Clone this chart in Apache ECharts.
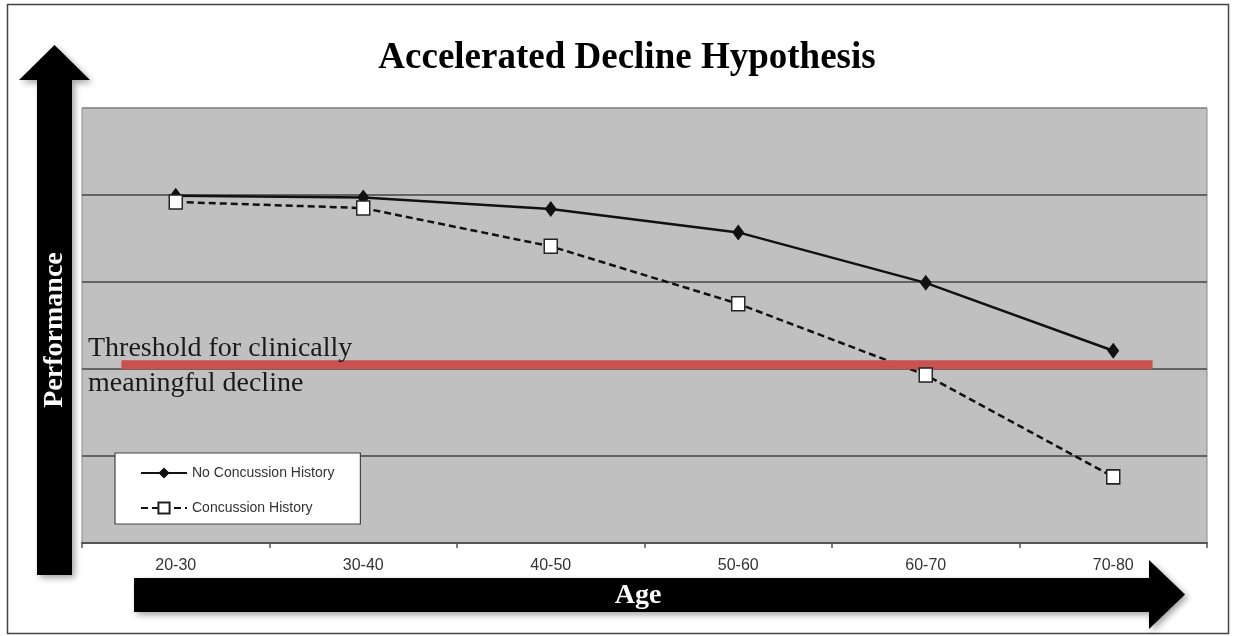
<!DOCTYPE html>
<html>
<head>
<meta charset="utf-8">
<script src="https://cdn.jsdelivr.net/npm/echarts@6/dist/echarts.min.js"></script>
<style>
html,body{margin:0;padding:0;background:#fff;}
#chart{width:1235px;height:636px;}
</style>
</head>
<body>
<div id="chart"></div>
<script>
var categories = ['20-30', '30-40', '40-50', '50-60', '60-70', '70-80'];
var noConcussion = [3.99, 3.97, 3.84, 3.57, 2.99, 2.21];
var concussion = [3.92, 3.85, 3.41, 2.75, 1.93, 0.76];
var thresholdValue = 2.05;
var thresholdSpan = [0.21, 5.71];
var titleText = 'Accelerated Decline Hypothesis';
var thresholdText = 'Threshold for clinically\nmeaningful decline';
var yAxisName = 'Performance';
var xAxisName = 'Age';

var chart = echarts.init(document.getElementById('chart'), null, {renderer: 'canvas'});
var narrow = "'Liberation Sans Narrow', 'Arial Narrow', 'Liberation Sans', Arial, sans-serif";
var serif = "'Liberation Serif', 'Times New Roman', serif";
var shadow = {shadowBlur: 6, shadowColor: 'rgba(0,0,0,0.35)', shadowOffsetX: 3, shadowOffsetY: 3};

var option = {
  animation: false,
  backgroundColor: '#ffffff',
  title: {
    text: titleText,
    left: 622,
    top: 35,
    textAlign: 'center',
    textStyle: {fontFamily: serif, fontWeight: 'bold', fontSize: 37, color: '#000'}
  },
  grid: {
    left: 82, right: 28, top: 108, bottom: 93,
    show: true, backgroundColor: '#c0c0c0', borderColor: '#8a8a8a', borderWidth: 1,
    containLabel: false
  },
  legend: {
    data: ['No Concussion History', 'Concussion History'],
    orient: 'vertical',
    left: 115, top: 453,
    padding: [13, 26, 9, 25],
    itemWidth: 46, itemHeight: 14, itemGap: 21,
    backgroundColor: '#ffffff', borderColor: '#444', borderWidth: 1.2,
    textStyle: {fontFamily: narrow, fontSize: 14, color: '#333'}
  },
  xAxis: [{
    type: 'category',
    data: categories,
    boundaryGap: true,
    axisLine: {lineStyle: {color: '#555', width: 2}},
    axisTick: {show: true, length: 5, lineStyle: {color: '#555', width: 1.5}},
    axisLabel: {fontFamily: narrow, fontSize: 16, color: '#333', margin: 15},
    splitLine: {show: false}
  }, {
    type: 'value', min: 0, max: 6, show: false
  }],
  yAxis: {
    type: 'value', min: 0, max: 5, interval: 1,
    axisLine: {show: false}, axisTick: {show: false}, axisLabel: {show: false},
    splitLine: {show: true, lineStyle: {color: ['#444', '#444', '#444', '#444', '#444', '#8a8a8a'], width: 1.5}}
  },
  series: [{
    name: 'No Concussion History',
    type: 'line',
    data: noConcussion,
    symbol: 'diamond',
    symbolSize: [12, 16],
    lineStyle: {color: '#111', width: 2.5},
    itemStyle: {color: '#111'},
    emphasis: {disabled: true}
  }, {
    name: 'Concussion History',
    type: 'line',
    data: concussion,
    symbol: 'rect',
    symbolSize: [13, 14],
    lineStyle: {color: '#111', width: 2.5, type: [7, 4]},
    itemStyle: {color: '#ffffff', borderColor: '#222', borderWidth: 1.5},
    emphasis: {disabled: true}
  }, {
    name: 'Threshold',
    type: 'line',
    xAxisIndex: 1,
    data: [[thresholdSpan[0], thresholdValue], [thresholdSpan[1], thresholdValue]],
    symbol: 'none',
    lineStyle: {color: '#c85250', width: 9},
    emphasis: {disabled: true},
    silent: true
  }],
  graphic: [
    {type: 'rect', shape: {x: 7.5, y: 4.5, width: 1221, height: 629}, style: {fill: 'none', stroke: '#444', lineWidth: 1.5}, z: 0},
    {type: 'polygon', shape: {points: [[54.5, 45], [90, 80], [72, 80], [72, 575], [37, 575], [37, 80], [19, 80]]},
      style: Object.assign({fill: '#000'}, shadow), z: 10},
    {type: 'polygon', shape: {points: [[134, 578], [1149, 578], [1149, 560], [1185, 594.5], [1149, 629], [1149, 612], [134, 612]]},
      style: Object.assign({fill: '#000'}, shadow), z: 10},
    {type: 'text', x: 55, y: 330, rotation: Math.PI / 2, z: 11,
      style: {text: yAxisName, fill: '#fff', font: 'bold 28px ' + serif, align: 'center', verticalAlign: 'middle'}},
    {type: 'text', x: 638, y: 596, z: 11,
      style: {text: xAxisName, fill: '#fff', font: 'bold 28px ' + serif, align: 'center', verticalAlign: 'middle'}},
    {type: 'text', x: 88, y: 331, z: 11,
      style: {text: thresholdText, fill: '#1a1a1a', font: '28px ' + serif, lineHeight: 35, align: 'left', verticalAlign: 'top'}}
  ]
};
chart.setOption(option);
</script>
</body>
</html>
